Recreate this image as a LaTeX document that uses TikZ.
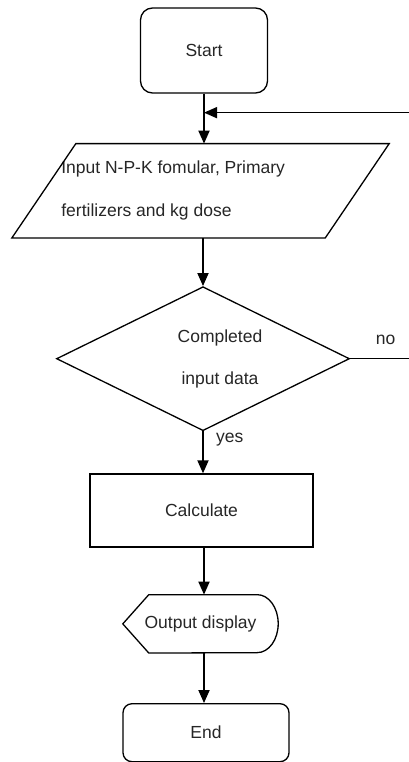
\documentclass[tikz,border=0pt]{standalone}
\usepackage{fontspec}
\setmainfont{Liberation Sans}
\usetikzlibrary{shapes.geometric, positioning, arrows.meta}
\tikzset{
>={Triangle[length=13pt,width=11pt]}, % filled arrow heads
every node/.style={font=\fontsize{17.5}{21}\selectfont, text=black!85},
outline/.style={draw, line width=1.3pt}, % the border of every box
terminal/.style={outline, rounded corners=12pt, minimum width=127pt, minimum height=85pt},
iobox/.style={minimum width=313pt, minimum height=94pt}, % body of the slanted box, drawn below
decision/.style={outline, diamond, inner sep=0pt, minimum width=293pt, minimum height=144pt},
process/.style={outline, rectangle, minimum width=223pt, minimum height=73pt},
flow/.style={->, line width=1.8pt}, % connectors between the boxes
}

\begin{document}
\begin{tikzpicture}[x=1pt, y=-1pt]
\useasboundingbox (0,0) rectangle (408,762);

\node[terminal] (start) at (204,50.5) {Start};
\node[iobox, below=50pt of start, xshift=-3.5pt] (inp) {};
\node[right=14pt of inp.west, align=left] (inptext) {Input N-P-K fomular, Primary\\[22pt]fertilizers and kg dose};
\node[decision, below=48pt of inp, xshift=2.5pt] (check) {};
\node[align=center] (checktext) at ([xshift=17pt]check.center) {Completed\\[21pt]input data};
\node[process, below=42pt of check, xshift=-1.5pt] (calc) {Calculate};
\node[minimum width=155pt, minimum height=58pt, below=47pt of calc, xshift=-1pt] (outp) {Output display};
\node[terminal, rounded corners=9pt, minimum width=166pt, minimum height=58pt, below=50pt of outp, xshift=5.5pt] (stop) {End};

% parallelogram round the input node
\draw[outline] ([xshift=32pt]inp.north west) -- ([xshift=32pt]inp.north east)
  -- ([xshift=-32pt]inp.south east) -- ([xshift=-32pt]inp.south west) -- cycle;

% display symbol round the output node
\draw[outline] (outp.west) -- ([xshift=26pt]outp.north west) -- ([xshift=-21pt]outp.north east)
  arc[start angle=90, end angle=-90, x radius=21pt, y radius=29pt]
  -- ([xshift=26pt]outp.south west) -- cycle;

\coordinate (back) at ([yshift=-19pt]start.south);
\coordinate (loop) at ([xshift=71pt]check.east);

\draw[flow] (start) -- (start |- inp.north);
\draw[flow] (check |- inp.south) -- (check);
\draw[flow] (check) -- node[pos=0.2, right=9pt] {yes} (check |- calc.north);
\draw[flow] (calc.south -| start) -- (outp.north -| start);
\draw[flow] (outp.south -| start) -- (stop.north -| start);

% back to the input when the data is not complete
\draw[line width=1.5pt] (check.east) -- node[above=10pt] {no} (loop);
\draw[flow, line width=1.5pt] (loop) |- (back);
\end{tikzpicture}
\end{document}
